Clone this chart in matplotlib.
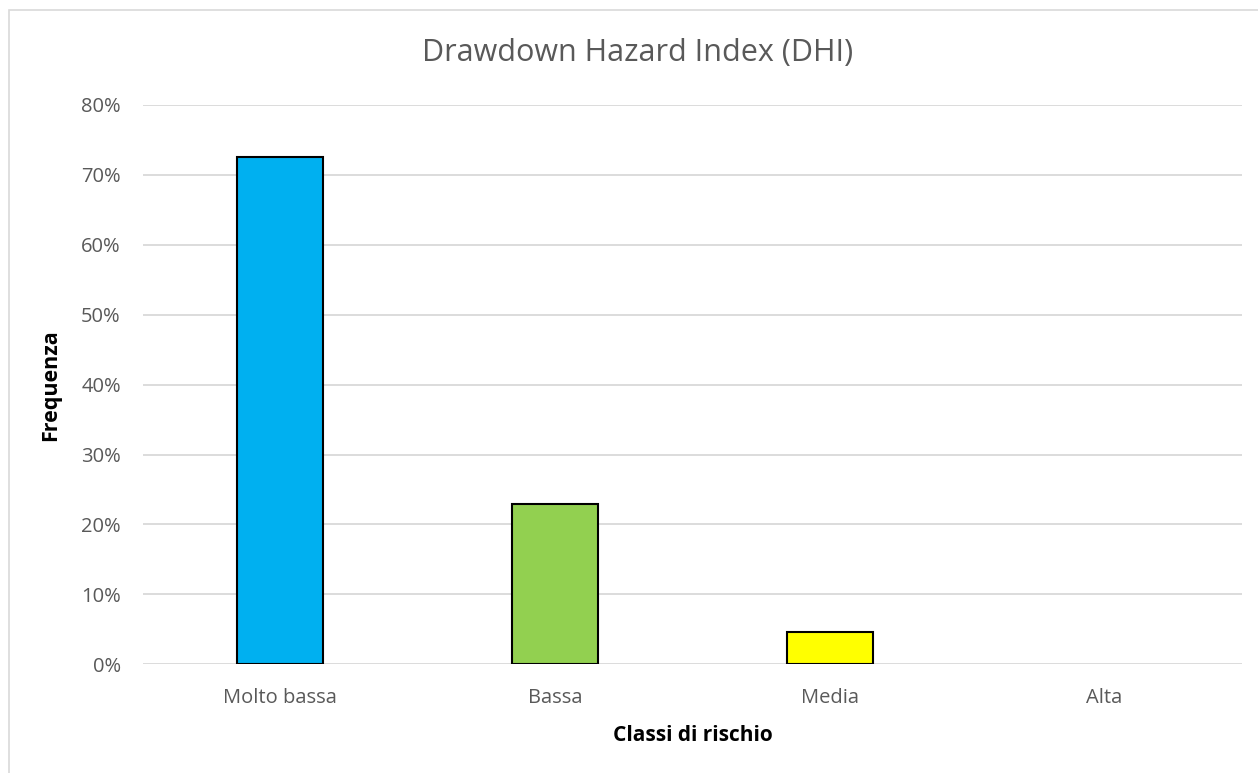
import matplotlib.pyplot as plt
from matplotlib.patches import Rectangle
from matplotlib.ticker import PercentFormatter

# --- Data ---
classes = ["Molto bassa", "Bassa", "Media", "Alta"]
freq = [0.726, 0.229, 0.046, 0.0]
colors = ["#00B0F0", "#92D050", "#FFFF00", "#C00000"]

plt.rcParams["font.family"] = ["Open Sans", "DejaVu Sans"]

fig = plt.figure(figsize=(12.58, 7.73), dpi=100)
W, H = 1258, 773

# chart frame
fig.patches.append(Rectangle((9 / W, -0.01), 1.02, (773 - 10) / H + 0.01,
                             transform=fig.transFigure, fill=False,
                             ec="#D9D9D9", lw=1.2))

# plot area in pixel coords
left, right, top, bottom = 143, 1242, 105, 664.3
ax = fig.add_axes([left / W, 1 - bottom / H, (right - left) / W, (bottom - top) / H])

x = range(len(classes))
# empty classes get no outline
edges = ["black" if v > 0 else "none" for v in freq]
ax.bar(x, freq, width=0.313, color=colors, edgecolor=edges, linewidth=1.5, zorder=3)

ax.set_xlim(-0.5, len(classes) - 0.5)
ax.set_ylim(0, 0.8)
ax.set_yticks([i / 10 for i in range(9)])
ax.yaxis.set_major_formatter(PercentFormatter(1.0, decimals=0))
ax.set_xticks(list(x))
ax.set_xticklabels(classes)

ax.grid(axis="y", color="#D9D9D9", lw=1.3, zorder=0)
for s in ax.spines.values():
    s.set_visible(False)
ax.tick_params(length=0, labelsize=14.5, colors="#595959")
ax.tick_params(axis="x", pad=17)
ax.tick_params(axis="y", pad=16)

ax.set_xlabel("Classi di rischio", fontsize=15, fontweight="bold", labelpad=12)
ax.set_ylabel("Frequenza", fontsize=15.5, fontweight="bold", labelpad=14)

fig.text(638 / W, 1 - 53 / H, "Drawdown Hazard Index (DHI)", fontsize=22,
         color="#595959", ha="center", va="center")

fig.savefig("out.png", dpi=100)
